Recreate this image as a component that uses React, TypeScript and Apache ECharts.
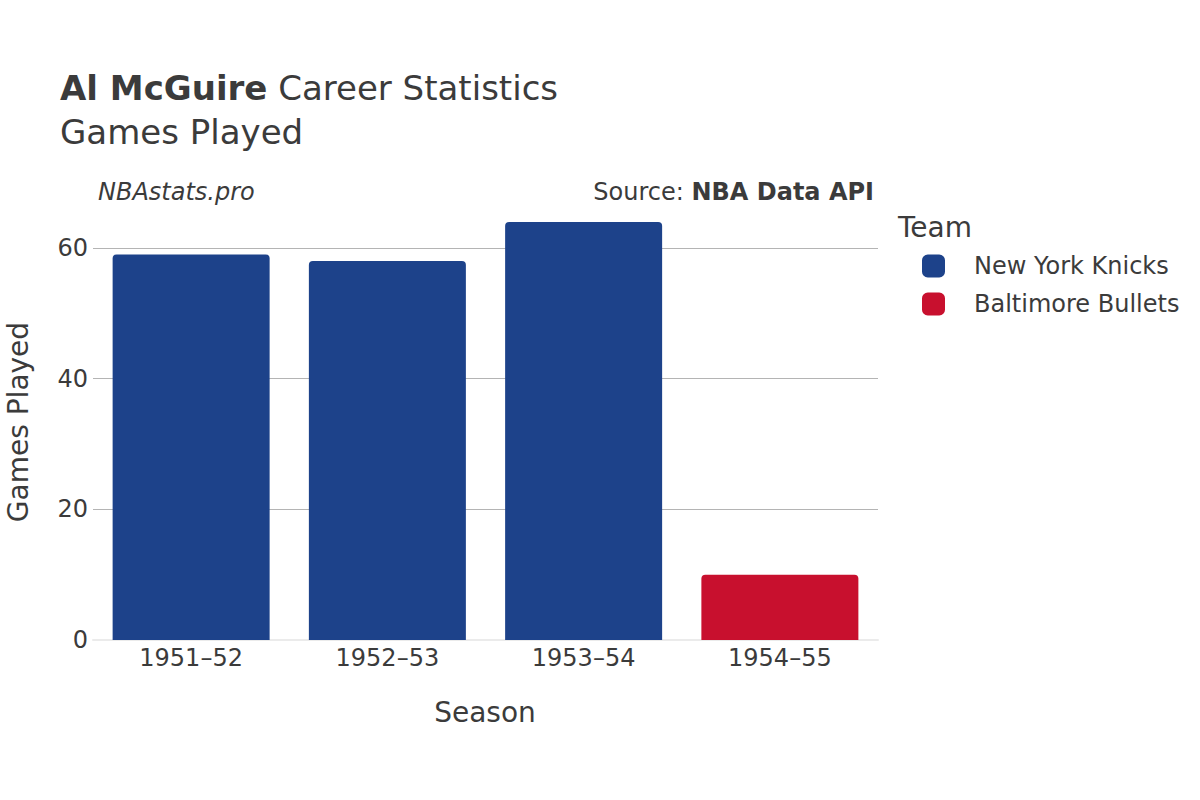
import React, { useEffect, useRef } from "react";
import * as echarts from "echarts";

const seasons = ["1951–52", "1952–53", "1953–54", "1954–55"];
const knicksGames = [59, 58, 64, null];
const bulletsGames = [null, null, null, 10];
const teamNames = ["New York Knicks", "Baltimore Bullets"];
const teamColors = ["#1d428a", "#c8102e"];

const FONT = "DejaVu Sans, Verdana, sans-serif";
const TXT = "#3b3b3b";

export default function App() {
  const ref = useRef<HTMLDivElement>(null);
  useEffect(() => {
    if (!ref.current) return;
    const chart = echarts.init(ref.current, null, { renderer: "svg" });
    const option: any = {
      animation: false,
      backgroundColor: "#ffffff",
      textStyle: { fontFamily: FONT, color: TXT },
      grid: { left: 93, right: 322, top: 200, bottom: 160, containLabel: false },
      xAxis: {
        type: "category",
        data: seasons,
        axisLine: { show: true, lineStyle: { color: "#ebebeb", width: 2 } },
        axisTick: { show: false },
        axisLabel: { fontSize: 24, color: TXT, margin: 6, fontFamily: FONT },
        splitLine: { show: false },
      },
      yAxis: {
        type: "value",
        min: 0,
        max: 67.35,
        interval: 20,
        axisLine: { show: false },
        axisTick: { show: false },
        axisLabel: {
          fontSize: 24,
          color: TXT,
          margin: 5,
          fontFamily: FONT,
          showMaxLabel: false,
          formatter: (v: number) => (v % 20 === 0 ? String(v) : ""),
        },
        splitLine: {
          show: true,
          showMinLine: false,
          showMaxLine: false,
          lineStyle: { color: "#b4b4b4", width: 1 },
        },
      },
      legend: {
        orient: "vertical",
        left: 922,
        top: 254,
        padding: 0,
        itemWidth: 23,
        itemHeight: 23,
        itemGap: 14,
        icon: "roundRect",
        data: teamNames,
        textStyle: { fontSize: 24, color: TXT, fontFamily: FONT, padding: [0, 0, 0, 24] },
      },
      series: [
        {
          name: teamNames[0],
          type: "bar",
          stack: "g",
          data: knicksGames,
          barCategoryGap: "20%",
          itemStyle: { color: teamColors[0], borderRadius: [4, 4, 0, 0] },
        },
        {
          name: teamNames[1],
          type: "bar",
          stack: "g",
          data: bulletsGames,
          barCategoryGap: "20%",
          itemStyle: { color: teamColors[1], borderRadius: [4, 4, 0, 0] },
        },
      ],
      graphic: [
        {
          type: "text",
          x: 60,
          y: 88,
          style: {
            text: "{b|Al McGuire}{n| Career Statistics}",
            verticalAlign: "middle",
            rich: {
              b: { fontSize: 34, fontWeight: "bold", fill: TXT, fontFamily: FONT },
              n: { fontSize: 34, fill: TXT, fontFamily: FONT },
            },
          },
        },
        {
          type: "text",
          x: 60,
          y: 132,
          style: { text: "Games Played", fontSize: 34, fill: TXT, fontFamily: FONT, verticalAlign: "middle" },
        },
        {
          type: "text",
          x: 98,
          y: 192,
          style: { text: "NBAstats.pro", fontSize: 24, fontStyle: "italic", fill: TXT, fontFamily: FONT, verticalAlign: "middle" },
        },
        {
          type: "text",
          x: 874,
          y: 192,
          style: {
            text: "{a|Source: }{b|NBA Data API}",
            align: "right",
            verticalAlign: "middle",
            rich: {
              a: { fontSize: 24, fill: TXT, fontFamily: FONT },
              b: { fontSize: 24, fontWeight: "bold", fill: TXT, fontFamily: FONT },
            },
          },
        },
        {
          type: "text",
          x: 898,
          y: 227,
          style: { text: "Team", fontSize: 28, fill: TXT, fontFamily: FONT, verticalAlign: "middle" },
        },
        {
          type: "text",
          x: 485,
          y: 712,
          style: { text: "Season", fontSize: 28, fill: TXT, fontFamily: FONT, align: "center", verticalAlign: "middle" },
        },
        {
          type: "text",
          x: 18,
          y: 422,
          rotation: Math.PI / 2,
          style: { text: "Games Played", fontSize: 28, fill: TXT, fontFamily: FONT, align: "center", verticalAlign: "middle" },
        },
      ],
    };
    chart.setOption(option);
    return () => chart.dispose();
  }, []);
  return <div ref={ref} style={{ width: 1200, height: 800, position: "absolute", left: 0, top: 0 }} />;
}
